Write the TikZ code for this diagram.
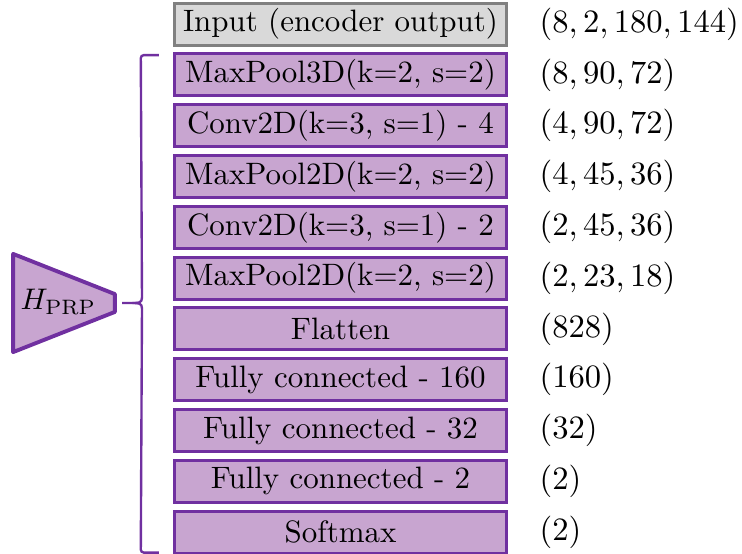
\documentclass[tikz,border=0pt]{standalone}
\usepackage{amsmath,amssymb}
\usepackage{xcolor}
\usepackage{tikz}
\usetikzlibrary{shapes.geometric, positioning, calc}
\definecolor{prpline}{RGB}{112,48,160}
\definecolor{prpfill}{RGB}{200,165,208}
\definecolor{inpline}{RGB}{128,128,128}
\definecolor{inpfill}{RGB}{217,217,217}
\newcommand{\hprp}{H_{\mathrm{PRP}}}

\begin{document}
\begin{tikzpicture}[node distance=17.07pt]
\tikzstyle{layer} = [rectangle, minimum width=111.6pt, minimum height=14.1pt, inner sep=0pt, text centered, draw=prpline, line width=1pt, fill=prpfill, font=\fontsize{10.4}{12}\selectfont]
\tikzstyle{dims} = [right=10.4pt of #1, inner sep=0pt, anchor=west, font=\fontsize{11.3}{13}\selectfont]
\tikzstyle{brace} = [draw=prpline, line width=0.8pt, rounded corners=1pt]

\useasboundingbox (0,0) rectangle (249.3pt,-185.8pt);

\node (inp) [layer, draw=inpline, fill=inpfill] at (114.4pt,-8.1pt) {Input (encoder output)};
\node (mp3) [layer, below of=inp] {MaxPool3D(k=2, s=2)};
\node (cv1) [layer, below of=mp3] {Conv2D(k=3, s=1) - 4};
\node (mp2a) [layer, below of=cv1] {MaxPool2D(k=2, s=2)};
\node (cv2) [layer, below of=mp2a] {Conv2D(k=3, s=1) - 2};
\node (mp2b) [layer, below of=cv2] {MaxPool2D(k=2, s=2)};
\node (flat) [layer, below of=mp2b] {Flatten};
\node (fc1) [layer, below of=flat] {Fully connected - 160};
\node (fc2) [layer, below of=fc1] {Fully connected - 32};
\node (fc3) [layer, below of=fc2] {Fully connected - 2};
\node (soft) [layer, below of=fc3] {Softmax};

\node (sinp) [dims=inp] {$(8,2,180,144)$};
\node (smp3) [dims=mp3] {$(8,90,72)$};
\node (scv1) [dims=cv1] {$(4,90,72)$};
\node (smp2a) [dims=mp2a] {$(4,45,36)$};
\node (scv2) [dims=cv2] {$(2,45,36)$};
\node (smp2b) [dims=mp2b] {$(2,23,18)$};
\node (sflat) [dims=flat] {$(828)$};
\node (sfc1) [dims=fc1] {$(160)$};
\node (sfc2) [dims=fc2] {$(32)$};
\node (sfc3) [dims=fc3] {$(2)$};
\node (ssoft) [dims=soft] {$(2)$};

% head block
\coordinate (t1) at (4.4pt,-85.3pt);
\coordinate (t2) at (38.6pt,-98.8pt);
\coordinate (t3) at (38.6pt,-104.8pt);
\coordinate (t4) at (4.4pt,-118.3pt);
\draw [draw=prpline, fill=prpfill, line width=1.3pt, line join=round] (t1) -- (t2) -- (t3) -- (t4) -- cycle;
\node (head) at (19.6pt,-101.4pt) {$\hprp$};

% brace
\coordinate (bt) at ($(mp3.north west)+(-4.7pt,-0.9pt)$);
\coordinate (bb) at ($(soft.south west)+(-4.7pt,0.7pt)$);
\coordinate (tip) at (41pt,-101.8pt);
\draw [brace] (bt) -- ++(-6.1pt,0) -- (47.7pt,-99pt) [sharp corners] .. controls (47.7pt,-101.8pt) and (46.5pt,-101.8pt) .. (44.5pt,-101.8pt) -- (tip);
\draw [brace] (bb) -- ++(-6.1pt,0) -- (47.7pt,-104.6pt) [sharp corners] .. controls (47.7pt,-101.8pt) and (46.5pt,-101.8pt) .. (44.5pt,-101.8pt);

\end{tikzpicture}
\end{document}
